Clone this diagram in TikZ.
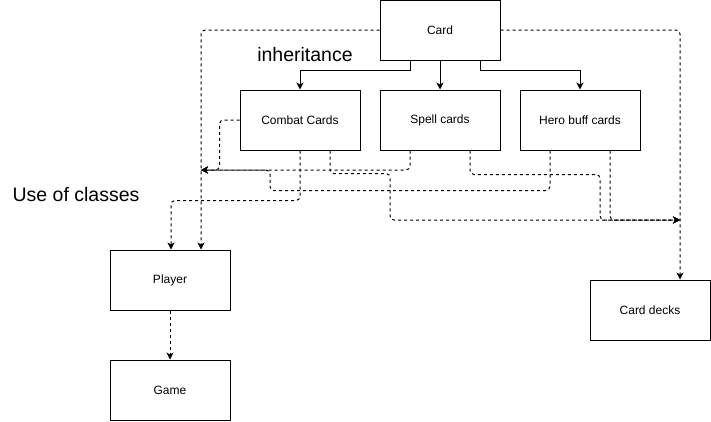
\documentclass[tikz,border=0pt]{standalone}
\usepackage{fontspec}
\setmainfont{Liberation Sans}
\usepackage{xcolor}
\usetikzlibrary{arrows.meta}
\definecolor{ink}{HTML}{000000}
\definecolor{paper}{HTML}{FFFFFF}
\tikzset{
  box/.style={draw=ink, fill=paper, line width=1pt, minimum width=120pt, minimum height=60pt, inner sep=0pt, font=\fontsize{12}{14}\selectfont},
  inh/.style={draw=ink, line width=1pt, -{Stealth[length=7pt,width=7pt,inset=2pt]}},
  use/.style={draw=ink, line width=1pt, dash pattern=on 3pt off 3pt, rounded corners=4pt, -{Stealth[length=7pt,width=7pt,inset=2pt]}},
  heading/.style={text=ink, font=\fontsize{19.5}{23}\selectfont}
}
\begin{document}
\begin{tikzpicture}[x=1pt,y=-1pt]
  \useasboundingbox (0,0) rectangle (711,421);

  \node[box] (card)   at (440,30)  {Card};
  \node[box] (combat) at (300,120) {Combat Cards};
  \node[box] (spell)  at (440,120) {Spell cards};
  \node[box] (hero)   at (580,120) {Hero buff cards};
  \node[box] (player) at (170,280) {Player};
  \node[box] (game)   at (170,390) {Game};
  \node[box] (decks)  at (650,310) {Card decks};

  \node[heading] (inhlab) at (305,55)  {inheritance};
  \node[heading] (uselab) at (76,195) {Use of classes};

  % joints where several dashed lines meet
  \coordinate (hub) at (201,170);
  \coordinate (tap) at (680,220);

  % inheritance
  \draw[inh] ([xshift=-30pt]card.south) -- ++(0,10) -| (combat.north);
  \draw[inh] (card.south) -- (spell.north);
  \draw[inh] ([xshift=40pt]card.south) -- ++(0,10) -| (hero.north);

  % use of classes
  \draw[use] (card.west) -| ([xshift=31pt]player.north);
  \draw[use] (card.east) -| ([xshift=30pt]decks.north);
  \draw[use] (combat.west) -- ++(-20,0) |- (hub);
  \draw[use] ([xshift=-30pt]spell.south) |- (hub);
  \draw[use] ([xshift=-30pt]hero.south) -- ++(0,40) -| ([xshift=69pt]hub) -- (hub);
  \draw[use] (combat.south) -- ++(0,50) -| ([xshift=1pt]player.north);
  \draw[use] ([xshift=30pt]combat.south) -- ++(0,23) -| ([xshift=-290pt]tap) -- (tap);
  \draw[use] ([xshift=30pt]spell.south) -- ++(0,24) -| ([xshift=-80pt]tap) -- (tap);
  \draw[use] ([xshift=30pt]hero.south) |- (tap);
  \draw[use] (player.south) -- (game.north);
\end{tikzpicture}
\end{document}
